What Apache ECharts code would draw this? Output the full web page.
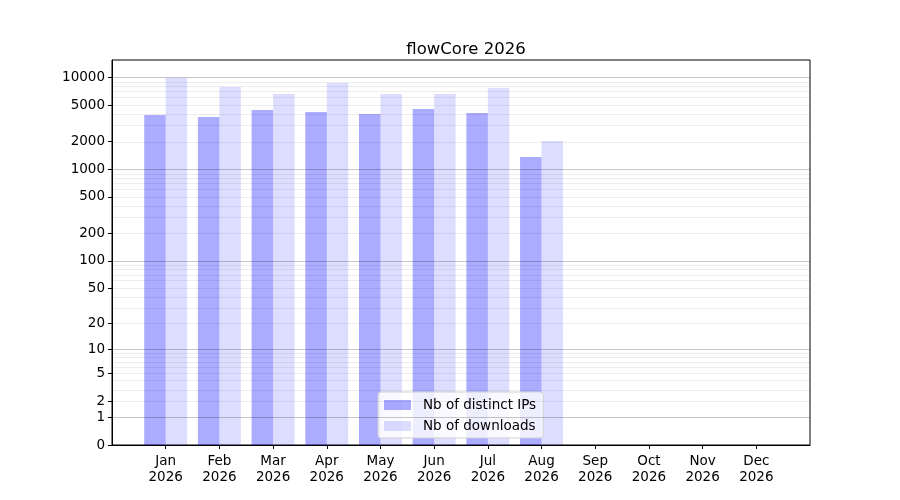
<!DOCTYPE html>
<html>
<head>
<meta charset="utf-8">
<script src="https://cdn.jsdelivr.net/npm/echarts@6/dist/echarts.min.js"></script>
<style>
  html, body { margin: 0; padding: 0; background: #fff; }
  #chart { width: 900px; height: 500px; }
</style>
</head>
<body>
<div id="chart"></div>
<script>
const chartTitle = 'flowCore 2026'
const months = ['Jan', 'Feb', 'Mar', 'Apr', 'May', 'Jun', 'Jul', 'Aug', 'Sep', 'Oct', 'Nov', 'Dec']
const year = '2026'
const ipsValues = [3900, 3700, 4420, 4200, 4000, 4530, 4100, 1360, 0, 0, 0, 0]
const downloadValues = [9930, 7870, 6590, 8690, 6590, 6590, 7670, 2030, 0, 0, 0, 0]
const tickValues = [0, 1, 2, 5, 10, 20, 50, 100, 200, 500, 1000, 2000, 5000, 10000]
const majorGrid = [1, 10, 100, 1000, 10000]
const minorGrid = [
  2, 3, 4, 5, 6, 7, 8, 9,
  20, 30, 40, 50, 60, 70, 80, 90,
  200, 300, 400, 500, 600, 700, 800, 900,
  2000, 3000, 4000, 5000, 6000, 7000, 8000, 9000
]

// the y scale is log10(1 + x), so 0 can sit on the axis
const tr = v => Math.log10(v + 1)
const tickPos = tickValues.map(tr)

// one empty slot on each side, like the xlim of the original
const categories = ['', ...months.map(m => m + '\n' + year), '']
const pad = arr => ['-', ...arr.map(tr), '-']

const font = 'DejaVu Sans'

const gridLines = [
  ...minorGrid.map(v => ({ yAxis: tr(v), lineStyle: { color: 'rgba(0,0,0,0.07)' } })),
  ...majorGrid.map(v => ({ yAxis: tr(v), lineStyle: { color: 'rgba(0,0,0,0.22)' } }))
]

const chart = echarts.init(document.getElementById('chart'), null, { renderer: 'canvas' })
chart.setOption({
  animation: false,
  textStyle: { fontFamily: font },
  title: {
    text: chartTitle,
    left: 461,
    textAlign: 'center',
    top: 36,
    textStyle: { fontFamily: font, fontSize: 16.5, fontWeight: 'normal', color: '#000' }
  },
  grid: {
    left: 112,
    right: 90,
    top: 60,
    bottom: 55,
    show: true,
    borderColor: '#000',
    borderWidth: 1,
    backgroundColor: 'transparent'
  },
  legend: {
    orient: 'vertical',
    left: 378,
    top: 392,
    itemWidth: 27,
    itemHeight: 10,
    itemGap: 7,
    icon: 'rect',
    padding: [6, 7, 5, 6],
    backgroundColor: 'rgba(255,255,255,0.8)',
    borderColor: '#d0d0d0',
    borderWidth: 1,
    borderRadius: 3,
    textStyle: { fontFamily: font, fontSize: 13.5, color: '#000', padding: [0, 0, 0, 7] }
  },
  xAxis: {
    type: 'category',
    data: categories,
    boundaryGap: false,
    axisLine: { lineStyle: { color: '#000' } },
    axisTick: {
      interval: i => i > 0 && i < categories.length - 1,
      length: 4,
      lineStyle: { color: '#000' }
    },
    axisLabel: {
      interval: 0,
      color: '#000',
      fontSize: 13.5,
      lineHeight: 16,
      margin: 8,
      fontFamily: font
    },
    splitLine: { show: false }
  },
  yAxis: {
    type: 'value',
    min: 0,
    max: 4.19,
    axisLine: { show: true, lineStyle: { color: '#000' } },
    axisTick: {
      show: true,
      length: 4,
      customValues: tickPos,
      lineStyle: { color: '#000' }
    },
    axisLabel: {
      customValues: tickPos,
      color: '#000',
      fontSize: 13.5,
      margin: 7,
      fontFamily: font,
      formatter: val => {
        const i = tickPos.findIndex(p => Math.abs(p - val) < 1e-6)
        return i >= 0 ? String(tickValues[i]) : ''
      }
    },
    splitLine: { show: false }
  },
  series: [
    {
      name: 'Nb of distinct IPs',
      type: 'bar',
      data: pad(ipsValues),
      barWidth: '40%',
      barGap: '0%',
      itemStyle: { color: 'rgba(0,0,255,0.33)' },
      markLine: {
        silent: true,
        symbol: 'none',
        label: { show: false },
        lineStyle: { type: 'solid', width: 1 },
        data: gridLines
      }
    },
    {
      name: 'Nb of downloads',
      type: 'bar',
      data: pad(downloadValues),
      barWidth: '40%',
      barGap: '0%',
      itemStyle: { color: 'rgba(0,0,255,0.133)' }
    }
  ]
})
</script>
</body>
</html>
